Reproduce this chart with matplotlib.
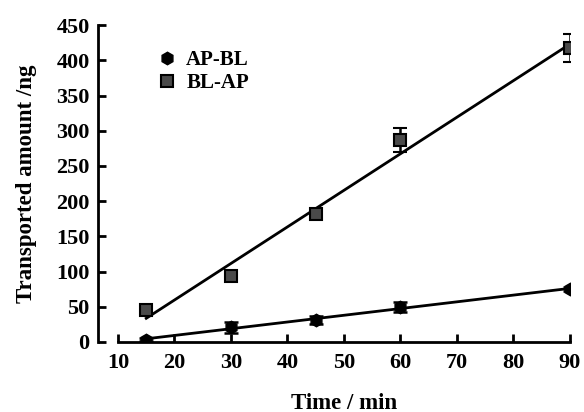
import matplotlib.pyplot as plt
from matplotlib.lines import Line2D
import numpy as np

plt.rcParams['font.family'] = ['Liberation Serif', 'DejaVu Serif']
plt.rcParams['font.weight'] = 'bold'

# data
time_min = [15, 30, 45, 60, 90]
ap_bl = [3, 21, 31, 50, 75]
ap_bl_err = [2, 8, 6, 7, 3]
bl_ap = [45, 93, 182, 287, 418]
bl_ap_err = [5, 5, 5, 17, 20]

fig = plt.figure(figsize=(5.84, 4.12), dpi=100)
ax = fig.add_axes([0.202, 0.170, 0.774, 0.769])

# linear fits
x = np.array(time_min)
for ys in (ap_bl, bl_ap):
    k, b = np.polyfit(x, ys, 1)
    ax.plot([15, 90], [k * 15 + b, k * 90 + b], color="black", lw=2, zorder=2)

ax.errorbar(time_min, ap_bl, yerr=ap_bl_err, fmt="h", color="black", ms=9,
            ecolor="black", elinewidth=1.8, capsize=5, capthick=1.8, zorder=3)
ax.errorbar(time_min, bl_ap, yerr=bl_ap_err, fmt="s", mfc="#4a4a4a", mec="black", mew=1.5,
            ms=8.5, ecolor="black", elinewidth=1.8, capsize=5, capthick=1.8, zorder=3)

ax.set_xlim(10, 90)
ax.set_ylim(0, 450)
ax.set_xticks(range(10, 91, 10))
ax.set_yticks(range(0, 451, 50))

ax.spines["top"].set_visible(False)
ax.spines["right"].set_visible(False)
ax.spines["left"].set_position(("outward", 14.4))
for s in ("left", "bottom"):
    ax.spines[s].set_linewidth(2)
ax.tick_params(direction="in", length=6, width=2, labelsize=16)
ax.tick_params(axis="x", pad=8)
ax.tick_params(axis="y", pad=6)

ax.set_xlabel("Time / min", fontsize=16.5, fontweight="bold", labelpad=14)
ax.set_ylabel("Transported amount /ng", fontsize=16.5, fontweight="bold", labelpad=14)

handles = [
    Line2D([], [], ls="none", marker="h", color="black", ms=9),
    Line2D([], [], ls="none", marker="s", mfc="#4a4a4a", mec="black", mew=1.5, ms=8.5),
]
ax.legend(handles, ["AP-BL", "BL-AP"], loc="upper left", bbox_to_anchor=(0.045, 0.98),
          frameon=False, fontsize=15, handletextpad=0.4, labelspacing=0.15, handlelength=1.0)

fig.savefig("out.png", dpi=100)
